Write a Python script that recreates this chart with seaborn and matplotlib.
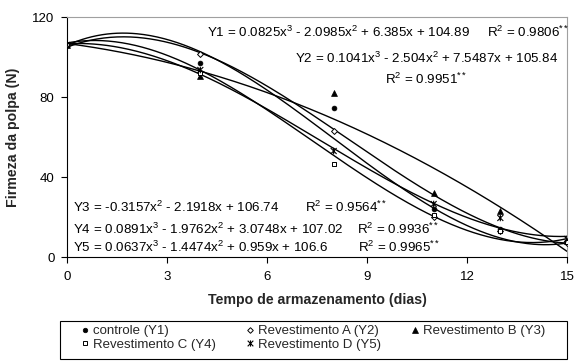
import numpy as np
import pandas as pd
import matplotlib
matplotlib.use("Agg")
import matplotlib.pyplot as plt
from matplotlib.path import Path
from matplotlib.patches import Rectangle
import seaborn as sns

# ---------------- data ----------------
days = [0, 4, 8, 11, 13, 15]
series_names = ["controle (Y1)", "Revestimento A (Y2)", "Revestimento B (Y3)",
                "Revestimento C (Y4)", "Revestimento D (Y5)"]
y1_controle = [106, 97, 74.5, 24, 14, 7.5]
y2_rev_a = [106, 101.5, 63, 20, 13, 7]
y3_rev_b = [106, 90.5, 82, 32, 23, 8]
y4_rev_c = [106, 92, 46.5, 21, 13, 7.5]
y5_rev_d = [106, 93.5, 53, 26.5, 19.5, 9]

# trendline coefficients (highest power first), as printed on the chart
coef_y1 = [0.0825, -2.0985, 6.385, 104.89]
coef_y2 = [0.1041, -2.504, 7.5487, 105.84]
coef_y3 = [-0.3157, -2.1918, 106.74]
coef_y4 = [0.0891, -1.9762, 3.0748, 107.02]
coef_y5 = [0.0637, -1.4474, 0.959, 106.6]

eq_labels = [
    "Y1 = 0.0825x$^{3}$ - 2.0985x$^{2}$ + 6.385x + 104.89",
    "Y2 = 0.1041x$^{3}$ - 2.504x$^{2}$ + 7.5487x + 105.84",
    "Y3 = -0.3157x$^{2}$ - 2.1918x + 106.74",
    "Y4 = 0.0891x$^{3}$ - 1.9762x$^{2}$ + 3.0748x + 107.02",
    "Y5 = 0.0637x$^{3}$ - 1.4474x$^{2}$ + 0.959x + 106.6",
]
r2_labels = ["R$^{2}$ = 0.9806$^{**}$", "R$^{2}$ = 0.9951$^{**}$",
             "R$^{2}$ = 0.9564$^{**}$", "R$^{2}$ = 0.9936$^{**}$",
             "R$^{2}$ = 0.9965$^{**}$"]

x_ticks = [0, 3, 6, 9, 12, 15]
y_ticks = [0, 40, 80, 120]

# ---------------- style ----------------
sns.set_theme(style="white")
plt.rcParams["font.family"] = ["Liberation Sans", "DejaVu Sans"]
plt.rcParams["mathtext.fontset"] = "custom"
plt.rcParams["mathtext.rm"] = "Liberation Sans"
plt.rcParams["mathtext.it"] = "Liberation Sans:italic"
plt.rcParams["mathtext.bf"] = "Liberation Sans:bold"
plt.rcParams["mathtext.default"] = "regular"

W, H = 579, 361
fig = plt.figure(figsize=(W / 100, H / 100), dpi=100)
ax = fig.add_axes([67 / W, 1 - 257 / H, 500 / W, 240 / H])

# star marker (X with a vertical stroke)
star = Path([(-1, -1), (1, 1), (-1, 1), (1, -1), (0, -1.1), (0, 1.1)],
            [Path.MOVETO, Path.LINETO, Path.MOVETO, Path.LINETO,
             Path.MOVETO, Path.LINETO])

values = [y1_controle, y2_rev_a, y3_rev_b, y4_rev_c, y5_rev_d]
coefs = [coef_y1, coef_y2, coef_y3, coef_y4, coef_y5]
marker_specs = [
    dict(marker="o", s=12, facecolor="black", edgecolor="black", linewidth=0.5),
    dict(marker="D", s=9, facecolor="white", edgecolor="black", linewidth=0.7),
    dict(marker="^", s=18, facecolor="black", edgecolor="black", linewidth=0.5),
    dict(marker="s", s=10, facecolor="white", edgecolor="black", linewidth=0.7),
    dict(marker=star, s=22, facecolor="none", edgecolor="black", linewidth=0.8),
]

xs = np.linspace(0, 15, 300)
handles = []
for name, vals, cf, ms in zip(series_names, values, coefs, marker_specs):
    curve = pd.DataFrame({"x": xs, "y": np.polyval(cf, xs)})
    sns.lineplot(data=curve, x="x", y="y", color="black", linewidth=1.0, ax=ax,
                 zorder=2)
for name, vals, cf, ms in zip(series_names, values, coefs, marker_specs):
    pts = pd.DataFrame({"x": days, "y": vals})
    sns.scatterplot(data=pts, x="x", y="y", ax=ax, zorder=3, color="black", **ms)
    h = plt.Line2D([], [], linestyle="none", marker=ms["marker"],
                   markersize=np.sqrt(ms["s"]) * 0.95,
                   markerfacecolor=ms["facecolor"], markeredgecolor="black",
                   markeredgewidth=ms["linewidth"], label=name)
    handles.append(h)

ax.set_xlim(0, 15)
ax.set_ylim(0, 120)
ax.set_xticks(x_ticks)
ax.set_yticks(y_ticks)
ax.tick_params(axis="both", direction="out", length=4, width=0.8,
               labelsize=9.5, colors="black", bottom=True, left=True)
ax.tick_params(axis="x", pad=6)
ax.tick_params(axis="y", pad=5)
ax.grid(False)
for side in ["left", "bottom"]:
    ax.spines[side].set_color("black")
    ax.spines[side].set_linewidth(0.8)
for side in ["top", "right"]:
    ax.spines[side].set_color("#a0a0a0")
    ax.spines[side].set_linewidth(0.8)

ax.set_xlabel("Tempo de armazenamento (dias)", fontsize=10.2, fontweight="bold",
              labelpad=7)
ax.set_ylabel("Firmeza da polpa (N)", fontsize=10.2, fontweight="bold", labelpad=9)

# equation labels (data coordinates)
eq_pos = [(4.2, 112.5), (6.84, 99.5), (0.18, 25), (0.18, 14), (0.18, 5)]
r2_pos = [(12.6, 112.5), (9.54, 89.0), (7.14, 25), (8.7, 14), (8.73, 5)]
for lab, (x, y) in zip(eq_labels, eq_pos):
    ax.text(x, y, lab, fontsize=9.6, ha="left", va="center", color="black")
for lab, (x, y) in zip(r2_labels, r2_pos):
    ax.text(x, y, lab, fontsize=9.6, ha="left", va="center", color="black")

# legend frame + entries (three columns)
fig.add_artist(Rectangle((60 / W, 1 - 359 / H), 507 / W, 38 / H,
                         transform=fig.transFigure, fill=False,
                         edgecolor="black", linewidth=0.8))
columns = [([0, 3], 81), ([1, 4], 246), ([2], 411)]
for idx, x0 in columns:
    lg = fig.legend([handles[i] for i in idx], [series_names[i] for i in idx],
                    ncol=1, loc="upper left",
                    bbox_to_anchor=(x0 / W, 1 - 325 / H),
                    frameon=False, fontsize=9.5,
                    handlelength=0.6, handletextpad=0.3, borderpad=0,
                    labelspacing=0.1, borderaxespad=0)

fig.savefig("out.png", dpi=100)
